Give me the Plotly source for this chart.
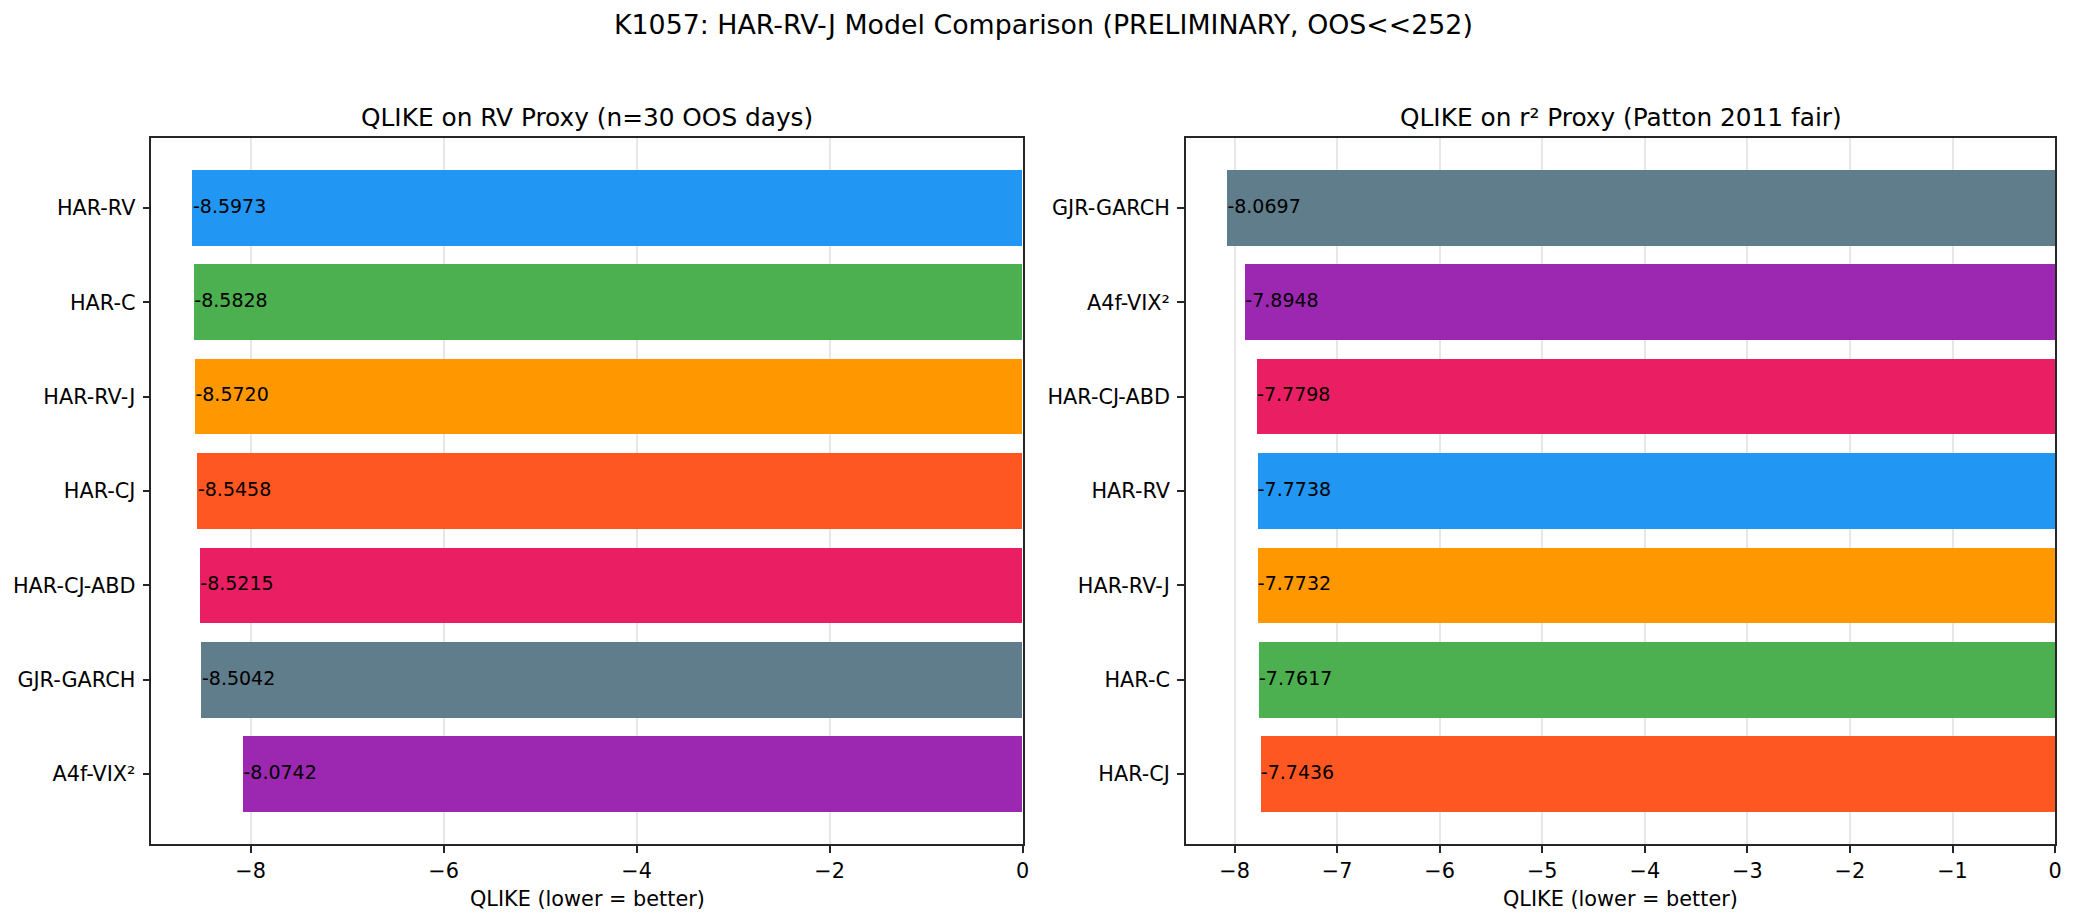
import plotly.graph_objects as go

# ---- data ----
left_models = ["HAR-RV", "HAR-C", "HAR-RV-J", "HAR-CJ", "HAR-CJ-ABD", "GJR-GARCH", "A4f-VIX²"]
left_qlike = [-8.5973, -8.5828, -8.5720, -8.5458, -8.5215, -8.5042, -8.0742]

right_models = ["GJR-GARCH", "A4f-VIX²", "HAR-CJ-ABD", "HAR-RV", "HAR-RV-J", "HAR-C", "HAR-CJ"]
right_qlike = [-8.0697, -7.8948, -7.7798, -7.7738, -7.7732, -7.7617, -7.7436]

model_colors = {
    "HAR-RV": "#2196F3",
    "HAR-C": "#4CAF50",
    "HAR-RV-J": "#FF9800",
    "HAR-CJ": "#FF5722",
    "HAR-CJ-ABD": "#E91E63",
    "GJR-GARCH": "#607D8B",
    "A4f-VIX²": "#9C27B0",
}

title = "K1057: HAR-RV-J Model Comparison (PRELIMINARY, OOS<<252)"
left_title = "QLIKE on RV Proxy (n=30 OOS days)"
right_title = "QLIKE on r² Proxy (Patton 2011 fair)"
xlabel = "QLIKE (lower = better)"

FONT = "DejaVu Sans"
W, H = 2084, 923

fig = go.Figure()

def add_panel(models, vals, xa, ya):
    fig.add_trace(go.Bar(
        y=models, x=vals, orientation="h", width=0.8,
        marker=dict(color=[model_colors[m] for m in models], line=dict(width=0)),
        xaxis=xa, yaxis=ya, showlegend=False, hoverinfo="x+y",
    ))
    fig.add_trace(go.Scatter(
        y=models, x=vals, mode="text",
        text=[f"{v:.4f}" for v in vals],
        textposition="middle right",
        textfont=dict(family=FONT, size=19, color="black"),
        xaxis=xa, yaxis=ya, showlegend=False, hoverinfo="skip",
    ))

add_panel(left_models, left_qlike, "x", "y")
add_panel(right_models, right_qlike, "x2", "y2")

ydom = [(H - 844) / H, (H - 138) / H]
xdom1 = [152 / W, 1026 / W]
xdom2 = [1190 / W, 2062 / W]

axis_common = dict(
    showline=True, linecolor="#262626", linewidth=1.8, mirror=True,
    ticks="outside", ticklen=7, tickwidth=1.5, tickcolor="#262626",
    tickfont=dict(family=FONT, size=20.8, color="black"),
    zeroline=False, layer="above traces",
)

lmin = min(left_qlike) * 1.05
rmin = min(right_qlike) * 1.05

fig.update_layout(
    width=W, height=H,
    margin=dict(l=0, r=0, t=0, b=0),
    paper_bgcolor="white", plot_bgcolor="white",
    bargap=0,
    xaxis=dict(domain=xdom1, anchor="y", range=[lmin, 0], dtick=2, tick0=0,
               showgrid=True, gridcolor="rgba(176,176,176,0.3)", gridwidth=1.5, **axis_common),
    yaxis=dict(domain=ydom, anchor="x", type="category", range=[6.74, -0.74],
               showgrid=False, ticklabelstandoff=3, **axis_common),
    xaxis2=dict(domain=xdom2, anchor="y2", range=[rmin, 0], dtick=1, tick0=0,
                showgrid=True, gridcolor="rgba(176,176,176,0.3)", gridwidth=1.5, **axis_common),
    yaxis2=dict(domain=ydom, anchor="x2", type="category", range=[6.74, -0.74],
                showgrid=False, ticklabelstandoff=3, **axis_common),
    annotations=[
        dict(text=title, x=1047 / W, y=(H - 25) / H, xref="paper", yref="paper",
             xanchor="center", yanchor="middle", showarrow=False,
             font=dict(family=FONT, size=26.8, color="black")),
        dict(text=left_title, x=(xdom1[0] + xdom1[1]) / 2, y=(H - 117) / H, xref="paper", yref="paper",
             xanchor="center", yanchor="middle", showarrow=False,
             font=dict(family=FONT, size=24.8, color="black")),
        dict(text=right_title, x=(xdom2[0] + xdom2[1]) / 2, y=(H - 117) / H, xref="paper", yref="paper",
             xanchor="center", yanchor="middle", showarrow=False,
             font=dict(family=FONT, size=24.8, color="black")),
        dict(text=xlabel, x=(xdom1[0] + xdom1[1]) / 2, y=(H - 899) / H, xref="paper", yref="paper",
             xanchor="center", yanchor="middle", showarrow=False,
             font=dict(family=FONT, size=20.8, color="black")),
        dict(text=xlabel, x=(xdom2[0] + xdom2[1]) / 2, y=(H - 899) / H, xref="paper", yref="paper",
             xanchor="center", yanchor="middle", showarrow=False,
             font=dict(family=FONT, size=20.8, color="black")),
    ],
)

fig.write_html("out.html")
